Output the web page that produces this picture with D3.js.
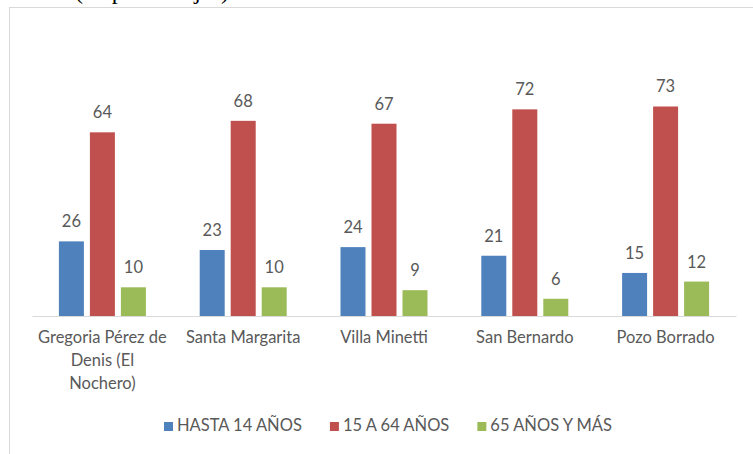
<!DOCTYPE html>
<html>
<head>
<meta charset="utf-8">
<script src="https://cdn.jsdelivr.net/npm/d3@7"></script>
<style>
  body { margin: 0; background: #fff; }
  svg { display: block; }
  text { font-family: Lato, "Open Sans", sans-serif; fill: #595959; }
</style>
</head>
<body>
<div id="chart"></div>
<script>
// localities (line breaks as in the original labels)
const localidades = [
  "Gregoria Pérez de\nDenis (El\nNochero)",
  "Santa Margarita",
  "Villa Minetti",
  "San Bernardo",
  "Pozo Borrado"
];
const grupos = ["HASTA 14 AÑOS", "15 A 64 AÑOS", "65 AÑOS Y MÁS"];
const hasta14 = [26, 23, 24, 21, 15];
const de15a64 = [64, 68, 67, 72, 73];
const mas65 = [10, 10, 9, 6, 12];
const colores = ["#4f81bd", "#c0504d", "#9bbb59"];

const W = 753, H = 454;
const svg = d3.select("#chart").append("svg")
  .attr("width", W)
  .attr("height", H);

// caption above the chart frame (cropped in the original)
svg.append("text")
  .attr("x", 75)
  .attr("y", -1)
  .style("font-family", "'Liberation Serif', 'Times New Roman', serif")
  .style("font-size", "24px")
  .style("fill", "#000")
  .text("(en porcentajes)");

// chart frame
svg.append("rect")
  .attr("x", 9.5)
  .attr("y", 7.5)
  .attr("width", 800)
  .attr("height", 500)
  .attr("fill", "none")
  .attr("stroke", "#d9d9d9");

const series = [hasta14, de15a64, mas65];
const data = localidades.map((loc, i) => ({
  loc,
  values: grupos.map((g, j) => ({ g, v: series[j][i], c: colores[j] }))
}));

const x0 = d3.scaleBand()
  .domain(localidades)
  .range([32, 736]);

const x1 = d3.scaleBand()
  .domain(grupos)
  .range([0, 87])
  .paddingInner(6 / 31);

const y = d3.scaleLinear()
  .domain([0, 100])
  .range([316, 29]);

// x axis
const axis = svg.append("g")
  .attr("transform", `translate(0,${y(0)})`)
  .call(d3.axisBottom(x0).tickSize(0).tickSizeOuter(0).tickFormat(""));
axis.select(".domain").attr("stroke", "#d9d9d9").attr("stroke-width", 1);

axis.selectAll(".tick").append("text")
  .attr("text-anchor", "middle")
  .style("font-size", "16.5px")
  .each(function(d) {
    const t = d3.select(this);
    d.split("\n").forEach((line, k) => {
      t.append("tspan")
        .attr("x", 0)
        .attr("y", 27 + k * 23)
        .text(line);
    });
  });

// bars
const g = svg.selectAll(".grp")
  .data(data)
  .enter()
  .append("g")
  .attr("transform", d => `translate(${x0(d.loc) + x0.bandwidth() / 2 - 43.5},0)`);

g.selectAll("rect")
  .data(d => d.values)
  .enter()
  .append("rect")
  .attr("x", d => x1(d.g))
  .attr("y", d => y(d.v))
  .attr("width", x1.bandwidth())
  .attr("height", d => y(0) - y(d.v))
  .attr("fill", d => d.c);

g.selectAll(".lbl")
  .data(d => d.values)
  .enter()
  .append("text")
  .attr("class", "lbl")
  .attr("x", d => x1(d.g) + x1.bandwidth() / 2)
  .attr("y", d => y(d.v) - 14)
  .attr("text-anchor", "middle")
  .style("font-size", "16.5px")
  .text(d => d.v);

// legend
const legend = svg.append("g").attr("transform", "translate(0,431)");
const items = legend.selectAll("g")
  .data(grupos)
  .enter()
  .append("g");
items.append("rect")
  .attr("y", -9)
  .attr("width", 9)
  .attr("height", 9)
  .attr("fill", (d, i) => colores[i]);
items.append("text")
  .attr("x", 13)
  .style("font-size", "16.5px")
  .text(d => d);

let widths = [];
items.each(function() { widths.push(this.getBBox().width); });
const gap = 28;
const total = d3.sum(widths) + gap * (widths.length - 1);
let cx = 388 - total / 2;
items.attr("transform", (d, i) => {
  const t = `translate(${cx},0)`;
  cx += widths[i] + gap;
  return t;
});
</script>
</body>
</html>
